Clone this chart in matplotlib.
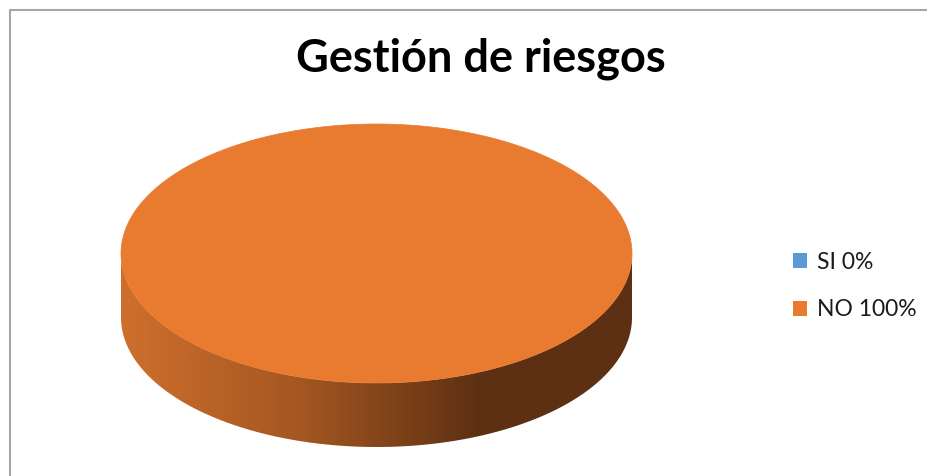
import numpy as np
import matplotlib.pyplot as plt
from matplotlib.patches import Polygon, Patch
from matplotlib.colors import LinearSegmentedColormap

categorias = ['SI', 'NO']
porcentajes = [0, 100]
colores = ['#5B9BD5', '#E97B31']

W, H = 927, 476
fig = plt.figure(figsize=(W / 100, H / 100), dpi=100)
ax = fig.add_axes([0, 0, 1, 1])

# marco del área del gráfico
ax.plot([10, 10, W], [H, 9.5, 9.5], color='#A6A6A6', lw=1.5, solid_capstyle='butt')

# pastel 3D: elipse superior + lateral con degradado
cx, cy, rx, ry, prof = 376.5, 253.5, 255.5, 129.5, 64
sombra = LinearSegmentedColormap.from_list(
    'lado', [(0, '#CE6F2D'), (0.35, '#A45721'), (0.70, '#5E3013'), (1, '#5D3013')])

total = sum(porcentajes)
ang = 90
for cat, val, col in zip(categorias, porcentajes, colores):
    if val == 0:
        continue
    barrido = 360 * val / total
    t = np.radians(np.linspace(ang, ang - barrido, 600))
    ang -= barrido
    x = cx + rx * np.cos(t)
    y = cy - ry * np.sin(t)

    frente = np.sin(t) <= 0
    xf, yf = x[frente], y[frente]
    orden = np.argsort(xf)
    xf, yf = xf[orden], yf[orden]
    lado = Polygon(np.column_stack([np.r_[xf, xf[::-1]], np.r_[yf, yf[::-1] + prof]]),
                   closed=True, facecolor='none', edgecolor='none')
    ax.add_patch(lado)
    grad = np.linspace(0, 1, 512).reshape(1, -1)
    im = ax.imshow(grad, extent=[cx - rx, cx + rx, cy + ry + prof, cy - ry],
                   cmap=sombra, aspect='auto', interpolation='bilinear')
    im.set_clip_path(lado)

    if barrido < 360:
        pts = np.column_stack([np.r_[cx, x], np.r_[cy, y]])
    else:
        pts = np.column_stack([x, y])
    ax.add_patch(Polygon(pts, closed=True, facecolor=col, edgecolor=col, lw=0.5))

ax.set_xlim(0, W)
ax.set_ylim(H, 0)
ax.axis('off')

fig.text(481 / W, 1 - 72 / H, 'Gestión de riesgos', ha='center', va='baseline',
         fontsize=32.5, fontweight='bold', family='Lato', color='black')

handles = [Patch(facecolor=c, edgecolor='none') for c in colores]
etiquetas = [f'{c} {p}%' for c, p in zip(categorias, porcentajes)]
fig.legend(handles, etiquetas, loc='center left', bbox_to_anchor=(793 / W, 1 - 286 / H),
           frameon=False, prop={'family': 'Lato', 'size': 16.5},
           handlelength=0.63, handleheight=0.63, handletextpad=0.4,
           labelspacing=1.15, borderpad=0, borderaxespad=0, labelcolor='#1A1A1A')

fig.savefig('out.png', dpi=100)
